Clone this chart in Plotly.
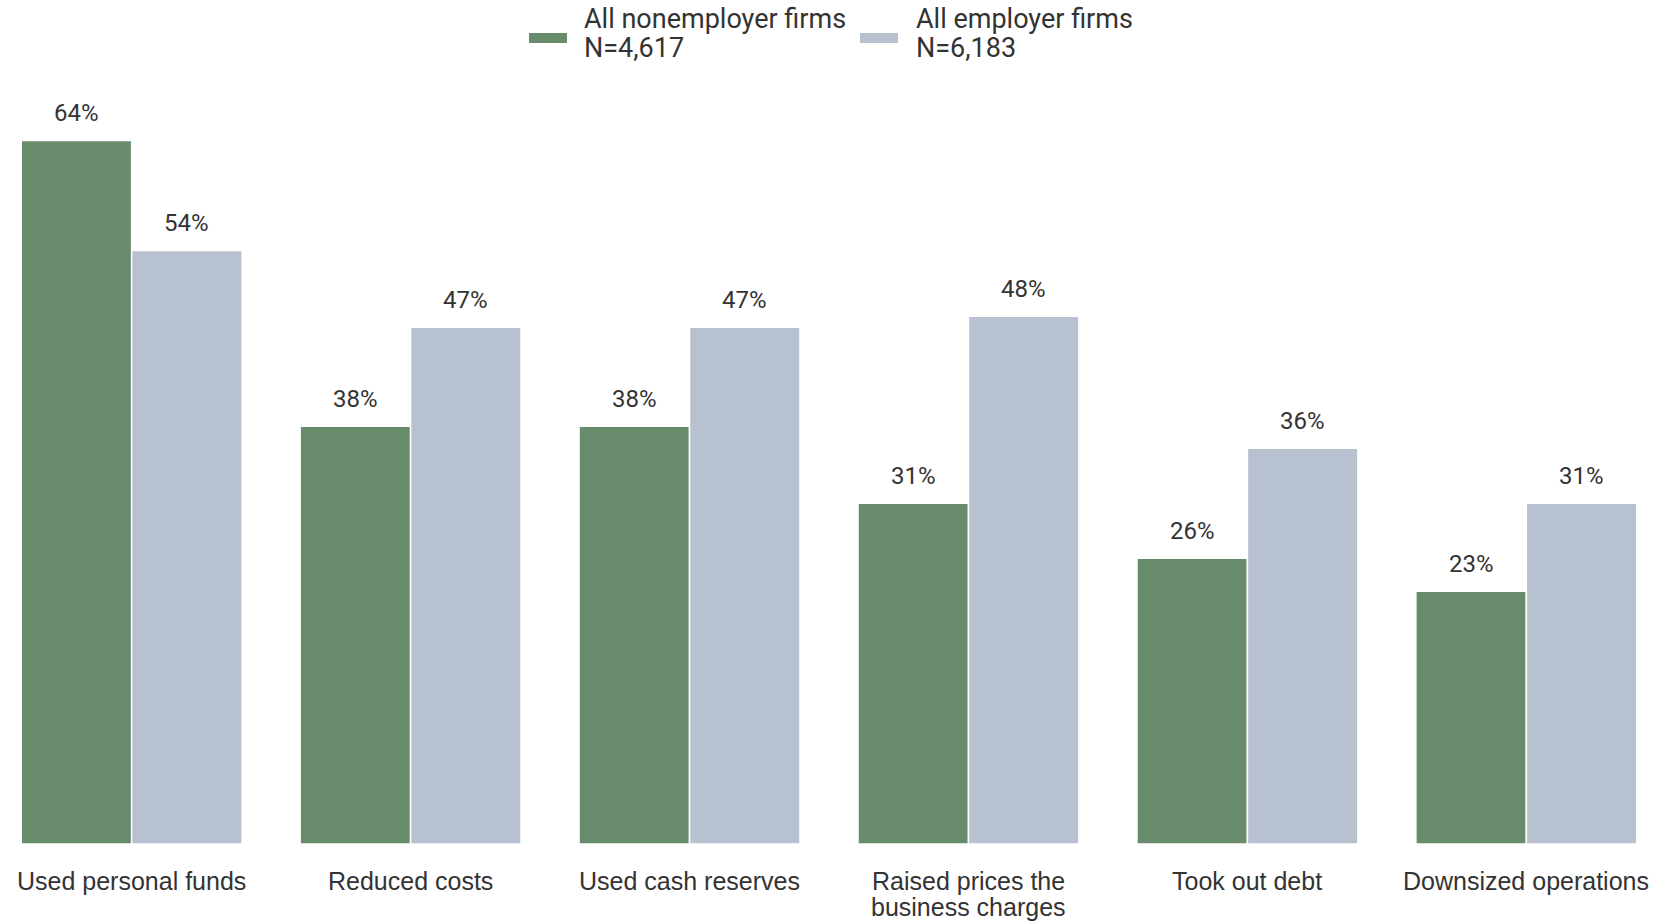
import plotly.graph_objects as go

# Categories and survey shares (%)
categories = ["Used personal funds", "Reduced costs", "Used cash reserves",
              "Raised prices the<br>business charges", "Took out debt", "Downsized operations"]
nonemployer = [64, 38, 38, 31, 26, 23]
employer = [54, 47, 47, 48, 36, 31]

series_names = ["All nonemployer firms", "All employer firms"]
series_sizes = ["N=4,617", "N=6,183"]
colors = ["#688b6c", "#b8c1d0"]

BAR_GAP = 0.208
bar_w = (1 - BAR_GAP) / 2
x_idx = list(range(len(categories)))

fig = go.Figure()
for vals, name, col in zip([nonemployer, employer], series_names, colors):
    fig.add_trace(go.Bar(
        x=x_idx, y=vals, name=name,
        marker=dict(color=col, line=dict(color="white", width=1.5)),
        showlegend=False,
    ))

annotations = []

# value labels above each bar
for k, vals in enumerate([nonemployer, employer]):
    off = (-0.5 + k) * bar_w
    for i, v in enumerate(vals):
        annotations.append(dict(
            x=i + off, y=v, xref="x", yref="y", text=f"{v}%",
            showarrow=False, yshift=27, yanchor="middle",
            font=dict(family="Roboto", size=24, color="#333333"),
        ))

# category labels under each group, with tight line spacing
for i, cat in enumerate(categories):
    for j, line_text in enumerate(cat.split("<br>")):
        annotations.append(dict(
            x=i, y=0, xref="x", yref="paper", text=line_text,
            showarrow=False, yanchor="middle", yshift=-37 - 26 * j,
            font=dict(family="Liberation Sans", size=25, color="#333333"),
        ))

# custom legend: wide swatches with two-line labels
shapes = []
legend_items = [(529, 567, 582), (860, 898, 914)]
W, H = 1658, 921
ML, MR, MT, MB = 0, 0, 80, 77
pw, ph = W - ML - MR, H - MT - MB
def px_x(px):
    return (px - ML) / pw
def px_y(py):
    return (H - MB - py) / ph
for (x0, x1, tx), name, size, col in zip(legend_items, series_names, series_sizes, colors):
    shapes.append(dict(type="rect", xref="paper", yref="paper",
                       x0=px_x(x0), x1=px_x(x1), y0=px_y(43), y1=px_y(33),
                       fillcolor=col, line=dict(width=0)))
    for line_text, cy in ((name, 19), (size, 48)):
        annotations.append(dict(
            x=px_x(tx), y=px_y(cy), xref="paper", yref="paper", text=line_text,
            showarrow=False, xanchor="left", yanchor="middle", align="left",
            font=dict(family="Roboto", size=27, color="#333333"),
        ))

fig.update_layout(
    width=W, height=H,
    margin=dict(l=ML, r=MR, t=MT, b=MB),
    paper_bgcolor="white", plot_bgcolor="white",
    barmode="group", bargap=BAR_GAP, bargroupgap=0,
    annotations=annotations, shapes=shapes,
    xaxis=dict(range=[-0.472, 5.472], tickvals=x_idx, showticklabels=False,
               showgrid=False, zeroline=False, showline=False, ticks="",
               automargin=False),
    yaxis=dict(range=[0, 69.5], visible=False, showgrid=False, automargin=False),
)

fig.write_html("out.html")
